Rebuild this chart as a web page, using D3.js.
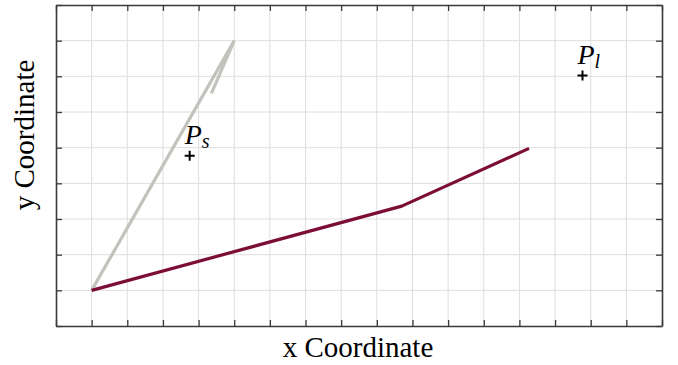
<!DOCTYPE html>
<html>
<head>
<meta charset="utf-8">
<script src="https://cdn.jsdelivr.net/npm/d3@7"></script>
<style>
  html, body { margin: 0; padding: 0; background: #fff; }
  svg { display: block; }
  text { font-family: "Liberation Serif", "Times New Roman", serif; }
</style>
</head>
<body>
<svg id="chart" width="678" height="365"></svg>
<script>
// Path traced from the start point (grey)
const shortPathX = [0, 4, 3.36];
const shortPathY = [0, 7, 5.52];
// Path traced from the start point (crimson)
const longPathX = [0, 8.7, 12.27];
const longPathY = [0, 2.36, 3.98];
// Labelled reference points
const pointNames = ["s", "l"];
const pointX = [2.75, 13.77];
const pointY = [3.77, 6.02];
// Axis domains and tick values
const xDomain = [-1, 16];
const yDomain = [-1, 8];
const xTicks = d3.range(-1, 17);
const yTicks = d3.range(-1, 9);

const svg = d3.select("#chart");
const plotLeft = 56, plotRight = 662, plotTop = 5, plotBottom = 326;

const x = d3.scaleLinear().domain(xDomain).range([plotLeft, plotRight]);
const y = d3.scaleLinear().domain(yDomain).range([plotBottom, plotTop]);

// grid
const grid = svg.append("g").attr("stroke", "#dedede").attr("stroke-width", 1);
grid.selectAll(".gx").data(xTicks.slice(1, -1)).join("line")
  .attr("x1", d => x(d)).attr("x2", d => x(d)).attr("y1", plotTop).attr("y2", plotBottom);
grid.selectAll(".gy").data(yTicks.slice(1, -1)).join("line")
  .attr("y1", d => y(d)).attr("y2", d => y(d)).attr("x1", plotLeft).attr("x2", plotRight);

// axes with inward ticks on all four sides
const tickLen = 6;
const axisStyle = g => {
  g.select(".domain").attr("stroke", "#3a3a3a").attr("stroke-width", 1.6);
  g.selectAll(".tick line").attr("stroke", "#3a3a3a").attr("stroke-width", 1.3);
  g.selectAll(".tick text").remove();
};
svg.append("g").attr("transform", `translate(0,${plotBottom})`)
  .call(d3.axisBottom(x).tickValues(xTicks).tickSize(-tickLen).tickSizeOuter(0)).call(axisStyle);
svg.append("g").attr("transform", `translate(0,${plotTop})`)
  .call(d3.axisTop(x).tickValues(xTicks).tickSize(-tickLen).tickSizeOuter(0)).call(axisStyle);
svg.append("g").attr("transform", `translate(${plotLeft},0)`)
  .call(d3.axisLeft(y).tickValues(yTicks).tickSize(-tickLen).tickSizeOuter(0)).call(axisStyle);
svg.append("g").attr("transform", `translate(${plotRight},0)`)
  .call(d3.axisRight(y).tickValues(yTicks).tickSize(-tickLen).tickSizeOuter(0)).call(axisStyle);

// paths
const line = d3.line().x(d => x(d[0])).y(d => y(d[1]));
svg.append("path")
  .datum(d3.zip(shortPathX, shortPathY))
  .attr("d", line).attr("fill", "none")
  .attr("stroke", "#c2c3bd").attr("stroke-width", 3.2)
  .attr("stroke-linejoin", "miter").attr("stroke-linecap", "butt");
svg.append("path")
  .datum(d3.zip(longPathX, longPathY))
  .attr("d", line).attr("fill", "none")
  .attr("stroke", "#7c0d36").attr("stroke-width", 3.2)
  .attr("stroke-linejoin", "round").attr("stroke-linecap", "butt");

// reference points with labels
const pts = svg.selectAll(".pt").data(pointNames.map((n, i) => ({ n, x: pointX[i], y: pointY[i] })))
  .join("g").attr("transform", d => `translate(${x(d.x)},${y(d.y)})`);
pts.append("path").attr("d", "M-5,0H5M0,-5V5")
  .attr("stroke", "#000").attr("stroke-width", 2).attr("fill", "none");
const lbl = pts.append("text").attr("x", -5).attr("y", -12)
  .attr("font-size", 28).attr("font-style", "italic").attr("fill", "#000");
lbl.append("tspan").text("P");
lbl.append("tspan").attr("font-size", 20).attr("dy", 4).attr("dx", 0).text(d => d.n);

// axis titles
svg.append("text").attr("x", 358).attr("y", 357)
  .attr("text-anchor", "middle").attr("font-size", 29).text("x Coordinate");
svg.append("text").attr("transform", `translate(34,135) rotate(-90)`)
  .attr("text-anchor", "middle").attr("font-size", 29).text("y Coordinate");
</script>
</body>
</html>
